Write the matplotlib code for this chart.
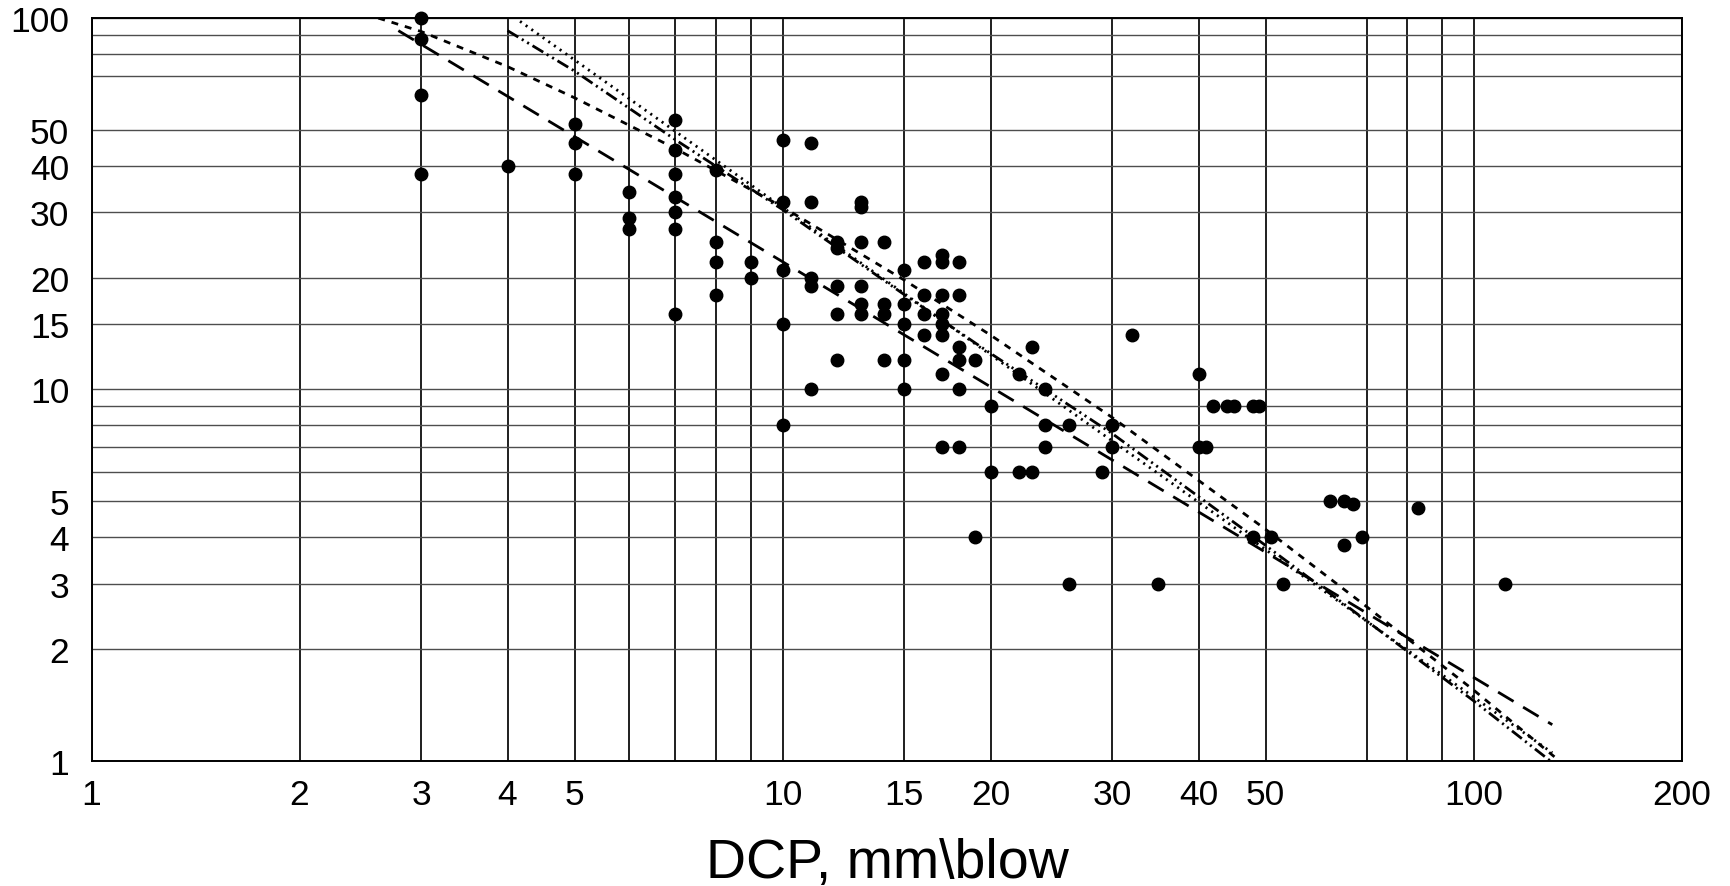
import matplotlib
matplotlib.use("Agg")
import matplotlib.pyplot as plt
from matplotlib.ticker import FixedLocator, NullFormatter, FixedFormatter

plt.rcParams['font.family'] = ['Liberation Sans', 'DejaVu Sans']
plt.rcParams['lines.scale_dashes'] = False

# Measured DCP penetration rate (mm/blow) and CBR (%)
dcp = [3, 3, 3, 3,
       4,
       5, 5, 5,
       6, 6, 6,
       7, 7, 7, 7, 7, 7, 7,
       8, 8, 8, 8,
       9, 9,
       10, 10, 10, 10, 10,
       11, 11, 11, 11, 11,
       12, 12, 12, 12, 12,
       13, 13, 13, 13, 13, 13,
       14, 14, 14, 14,
       15, 15, 15, 15, 15,
       16, 16, 16, 16,
       17, 17, 17, 17, 17, 17, 17, 17,
       18, 18, 18, 18, 18, 18,
       19, 19,
       20, 20,
       22, 22,
       23, 23,
       24, 24, 24,
       26, 26,
       29,
       30, 30,
       32,
       35,
       40, 40, 41,
       42, 44, 45, 48, 49,
       48, 51,
       53,
       62, 65, 67, 65, 69,
       83,
       111]
cbr = [100, 88, 62, 38,
       40,
       52, 46, 38,
       34, 29, 27,
       53, 44, 38, 33, 30, 27, 16,
       39, 25, 22, 18,
       22, 20,
       47, 32, 21, 15, 8,
       46, 32, 20, 19, 10,
       25, 24, 19, 16, 12,
       32, 31, 25, 19, 17, 16,
       25, 17, 16, 12,
       21, 17, 15, 12, 10,
       22, 18, 16, 14,
       23, 22, 18, 16, 15, 14, 11, 7,
       22, 18, 13, 12, 10, 7,
       12, 4,
       9, 6,
       11, 6,
       13, 6,
       10, 8, 7,
       8, 3,
       6,
       8, 7,
       14,
       3,
       11, 7, 7,
       9, 9, 9, 9, 9,
       4, 4,
       3,
       5, 5, 4.9, 3.8, 4,
       4.8,
       3]

# Correlation curves (points along each curve)
long_dash_x = [2.78, 130]
long_dash_y = [92.5, 1.25]

short_dash_x = [2.6, 3, 4, 5, 7, 10, 15, 20, 30, 50, 70, 100, 133]
short_dash_y = [100, 92, 74, 61, 44.5, 31, 19.7, 14, 8.4, 4.2, 2.6, 1.55, 1.0]

dotted_x = [4.17, 130]
dotted_y = [98, 1.05]

dash_dot_x = [4, 5, 7, 10, 15, 20, 30, 50, 100, 129]
dash_dot_y = [92.5, 72, 47, 30.5, 18, 12.5, 7.6, 3.8, 1.45, 1.0]

x_major = [1, 2, 3, 4, 5, 10, 15, 20, 30, 40, 50, 100, 200]
x_minor = [6, 7, 8, 9, 70, 80, 90]
y_major = [1, 2, 3, 4, 5, 10, 15, 20, 30, 40, 50, 100]
y_minor = [6, 7, 8, 9, 70, 80, 90]

fig = plt.figure(figsize=(17.3, 8.87), dpi=100)
ax = fig.add_axes([0.0529, 0.1413, 0.9191, 0.8372])
ax.set_xscale('log')
ax.set_yscale('log')
ax.set_xlim(1, 200)
ax.set_ylim(1, 100)

ax.xaxis.set_major_locator(FixedLocator(x_major))
ax.xaxis.set_major_formatter(FixedFormatter([str(v) for v in x_major]))
ax.xaxis.set_minor_locator(FixedLocator(x_minor))
ax.xaxis.set_minor_formatter(NullFormatter())
ax.yaxis.set_major_locator(FixedLocator(y_major))
ax.yaxis.set_major_formatter(FixedFormatter([str(v) for v in y_major]))
ax.yaxis.set_minor_locator(FixedLocator(y_minor))
ax.yaxis.set_minor_formatter(NullFormatter())

ax.tick_params(axis='x', which='both', length=0, pad=12.5, labelsize=25.5)
ax.tick_params(axis='y', which='both', length=0, pad=16, labelsize=25.5)

ax.xaxis.grid(True, which='both', color='0.05', linewidth=1.3)
ax.yaxis.grid(True, which='both', color='0.3', linewidth=1.0)
ax.set_axisbelow(True)
for s in ax.spines.values():
    s.set_color('black')
    s.set_linewidth(1.4)

lw = 2.0
ax.plot(long_dash_x, long_dash_y, color='black', lw=lw, dashes=(13, 8))
ax.plot(short_dash_x, short_dash_y, color='black', lw=lw, dashes=(5, 5))
ax.plot(dotted_x, dotted_y, color='black', lw=lw, dashes=(1.5, 3.5))
ax.plot(dash_dot_x, dash_dot_y, color='black', lw=lw,
        dashes=(9, 3, 1.5, 3, 1.5, 3))

ax.plot(dcp, cbr, 'o', color='black', markersize=9, clip_on=False, zorder=5)

fig.text(0.5127, 0.0101, 'DCP, mm\\blow', ha='center', va='baseline', fontsize=40)

fig.savefig('out.png', dpi=100)
